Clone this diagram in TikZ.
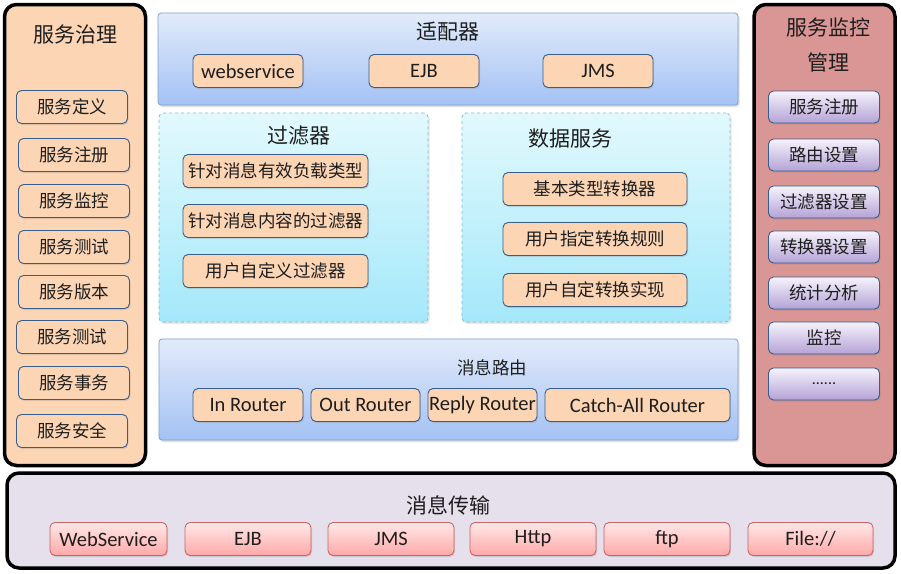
\documentclass[tikz,border=0pt]{standalone}
\usepackage{fontspec}
\setmainfont{Carlito}
\newfontfamily\cjk{Noto Sans CJK SC}
\usetikzlibrary{shadows}
\definecolor{peach}{RGB}{252,213,181}
\definecolor{btnline}{RGB}{56,93,138}
\definecolor{rosepanel}{RGB}{217,150,148}
\definecolor{lavpanel}{RGB}{230,224,236}
\definecolor{adtop}{RGB}{226,235,250}
\definecolor{adbot}{RGB}{164,194,244}
\definecolor{adline}{RGB}{123,160,205}
\definecolor{cytop}{RGB}{226,249,253}
\definecolor{cybot}{RGB}{164,232,250}
\definecolor{cyline}{RGB}{110,190,215}
\definecolor{putop}{RGB}{246,243,252}
\definecolor{pubot}{RGB}{180,162,214}
\definecolor{pktop}{RGB}{255,232,232}
\definecolor{pkbot}{RGB}{255,168,168}
\definecolor{pkline}{RGB}{200,100,98}
\definecolor{txt}{RGB}{30,30,30}
\begin{document}
\begin{tikzpicture}[x=1pt,y=-1pt,
  outerpanel/.style={draw=black, line width=3.5pt, rounded corners=12pt, inner sep=0pt},
  bluepanel/.style={draw=adline, line width=0.8pt, top color=adtop, bottom color=adbot, rounded corners=3pt, inner sep=0pt,
    drop shadow={shadow xshift=1.5pt, shadow yshift=-2pt, opacity=0.25}},
  cyanpanel/.style={draw=cyline, line width=0.8pt, dashed, top color=cytop, bottom color=cybot, rounded corners=4pt, inner sep=0pt,
    drop shadow={shadow xshift=1.5pt, shadow yshift=-2pt, opacity=0.2}},
  btnbase/.style={line width=0.9pt, rounded corners=5pt, inner sep=0pt, minimum height=33pt, text=txt,
    drop shadow={shadow xshift=1pt, shadow yshift=-1.5pt, opacity=0.25}},
  pbtn/.style={btnbase, draw=btnline, fill=peach},
  vbtn/.style={btnbase, draw=btnline, top color=putop, bottom color=pubot},
  kbtn/.style={btnbase, draw=pkline, top color=pktop, bottom color=pkbot},
  cjkt/.style={font=\cjk\fontsize{17.5}{18}\selectfont},
  latt/.style={font=\fontsize{20.5}{21}\selectfont},
  ttl/.style={font=\cjk\fontsize{21}{26}\selectfont, text=txt, inner sep=0pt},
  ttlsm/.style={font=\cjk\fontsize{17.5}{20}\selectfont, text=txt, inner sep=0pt}
]
\useasboundingbox (0,0) rectangle (901,573);

% ---------- left panel ----------
\node[outerpanel, fill=peach, minimum width=141pt, minimum height=461pt] (gov) at (75,235) {};
\node[ttl] (govt) at (75,35) {服务治理};
\foreach \n/\t/\xx/\yy in {g1/服务定义/72/107, g2/服务注册/74/155, g3/服务监控/74/201, g4/服务测试/74/247,
  g5/服务版本/74/292, g6/服务测试/72/337, g7/服务事务/74/383, g8/服务安全/72/431}
  \node[pbtn, cjkt, minimum width=111pt] (\n) at (\xx,\yy) {\t};

% ---------- right panel ----------
\node[outerpanel, fill=rosepanel, minimum width=141pt, minimum height=461pt] (mon) at (824.5,235) {};
\node[ttl] (mont1) at (828,28) {服务监控};
\node[ttl] (mont2) at (828,62) {管理};
\foreach \n/\t/\yy in {m1/服务注册/107, m2/路由设置/155, m3/过滤器设置/202, m4/转换器设置/247,
  m5/统计分析/293, m6/监控/338}
  \node[vbtn, cjkt, minimum width=111pt, minimum height=32pt] (\n) at (824,\yy) {\t};
\node[vbtn, font=\fontsize{16}{16}\selectfont, minimum width=111pt, minimum height=32pt] (m7) at (824,384) {......};

% ---------- bottom panel ----------
\node[outerpanel, fill=lavpanel, minimum width=888pt, minimum height=95pt] (trans) at (451,520.5) {};
\node[ttl] (transt) at (448,505) {消息传输};
\node[kbtn, latt, minimum width=117pt] (k1) at (108.5,539) {WebService};
\node[kbtn, latt, minimum width=126pt] (k2) at (248,539) {EJB};
\node[kbtn, latt, minimum width=126pt] (k3) at (391,539) {JMS};
\node[kbtn, latt, minimum width=126pt] (k4) at (533,539) {Http};
\node[kbtn, latt, minimum width=126pt] (k5) at (667,539) {ftp};
\node[kbtn, latt, minimum width=125pt] (k6) at (810.5,539) {File://};

% ---------- adaptor ----------
\node[bluepanel, minimum width=580pt, minimum height=92pt] (adp) at (448,59) {};
\node[ttl] (adpt) at (448,32) {适配器};
\node[pbtn, latt, minimum width=110pt] (a1) at (248,71) {webservice};
\node[pbtn, latt, minimum width=110pt] (a2) at (424,71) {EJB};
\node[pbtn, latt, minimum width=110pt] (a3) at (598,71) {JMS};

% ---------- filter ----------
\node[cyanpanel, minimum width=269pt, minimum height=209pt] (flt) at (293.5,217.5) {};
\node[ttl] (fltt) at (299,136) {过滤器};
\node[pbtn, cjkt, minimum width=185pt] (f1) at (275.5,171) {针对消息有效负载类型};
\node[pbtn, cjkt, minimum width=185pt] (f2) at (275.5,221) {针对消息内容的过滤器};
\node[pbtn, cjkt, minimum width=185pt] (f3) at (275.5,271) {用户自定义过滤器};

% ---------- data service ----------
\node[cyanpanel, minimum width=268pt, minimum height=209pt] (dsv) at (596,217.5) {};
\node[ttl] (dsvt) at (570,139) {数据服务};
\node[pbtn, cjkt, minimum width=184pt] (d1) at (595,189) {基本类型转换器};
\node[pbtn, cjkt, minimum width=184pt] (d2) at (595,239) {用户指定转换规则};
\node[pbtn, cjkt, minimum width=184pt] (d3) at (595,290) {用户自定转换实现};

% ---------- router ----------
\node[bluepanel, minimum width=579pt, minimum height=101pt] (rt) at (448.5,389.5) {};
\node[ttlsm] (rtt) at (492,368) {消息路由};
\node[pbtn, latt, minimum width=110pt] (r1) at (248,405) {In Router};
\node[pbtn, latt, minimum width=109pt] (r2) at (365.5,405) {Out Router};
\node[pbtn, latt, minimum width=109pt] (r3) at (482.5,405) {Reply Router};
\node[pbtn, latt, minimum width=185pt] (r4) at (637.5,405) {Catch-All Router};
\end{tikzpicture}
\end{document}
